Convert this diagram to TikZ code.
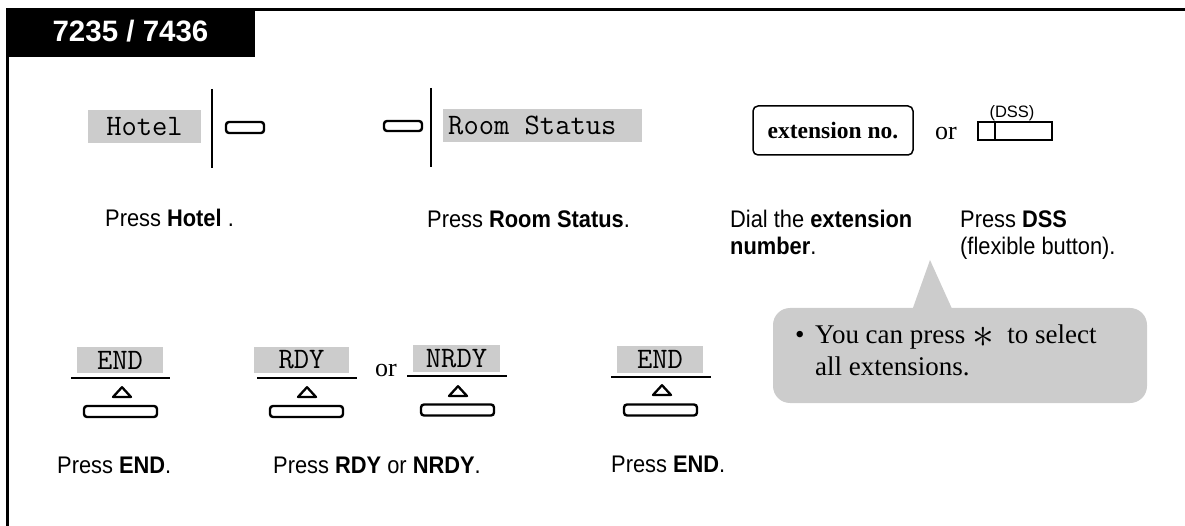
\documentclass[tikz,border=0pt]{standalone}
\usepackage{fontspec}
\setmainfont{Liberation Serif}
\setsansfont{Liberation Sans}[FakeStretch=0.91]
\newfontfamily\tabfont{Liberation Sans}
\usetikzlibrary{calc}
\definecolor{keygray}{gray}{0.8}
\begin{document}
\begin{tikzpicture}[x=1pt,y=-1pt,
  sans/.style={font=\sffamily\fontsize{24}{28}\selectfont, inner sep=0, anchor=base west},
  serif/.style={font=\rmfamily\fontsize{27}{32}\selectfont, inner sep=0, anchor=base west},
  graykey/.style={fill=keygray, font=\ttfamily\fontsize{29.7}{32}\selectfont, inner sep=0},
  keybtn/.style={draw, line width=2.4, rounded corners=3, inner sep=0},
  bar/.style={line width=2.6},
  frame/.style={line width=2.6},
  rule/.style={line width=1.2},
  tri/.style={line width=2.3, line join=round}
]
\useasboundingbox (0,0) rectangle (1185,526);

% header tab and frame
\node[fill=black, minimum width=249, minimum height=49, inner sep=0, anchor=north west] (tab) at (6,8) {};
\node[font=\tabfont\bfseries\fontsize{29.5}{32}\selectfont, text=white, anchor=base, inner sep=0] (tabtext) at (130.5,41.5) {7235 / 7436};
\coordinate (topend) at (1185,9.5);
\coordinate (leftend) at (7.5,526);
\draw[frame] (tab.north east |- topend) -- (topend);
\draw[frame] (tab.south west -| leftend) -- (leftend);

% ---- row 1 ----
\node[graykey, minimum width=113, minimum height=33] (hotel) at (144.5,126.5) {Hotel};
\coordinate (hbar1) at (212,89);
\coordinate (hbar2) at (212,168);
\draw[bar] (hbar1) -- (hbar2);
\node[keybtn, minimum width=38, minimum height=11] (hotelbtn) at (245,127.5) {};

\node[keybtn, minimum width=38, minimum height=10] (roombtn) at (403,126) {};
\coordinate (rbar1) at (431,88);
\coordinate (rbar2) at (431,167);
\draw[bar] (rbar1) -- (rbar2);
\node[graykey, minimum height=33, minimum width=199, anchor=west] (room) at (443,125.5) {};
\node[font=\ttfamily\fontsize{29.7}{32}\selectfont, inner sep=0, anchor=west] (roomtext) at (448,125.5) {Room Status};

\node[draw, line width=1.5, rounded corners=5, minimum width=160, minimum height=49, inner sep=0,
      font=\rmfamily\bfseries\fontsize{23.5}{27}\selectfont] (ext) at (833,130.5) {extension no.};
\node[font=\rmfamily\fontsize{26}{30}\selectfont, anchor=base west, inner sep=0] (or1) at (935,140) {or};
\node[draw, line width=2.2, minimum width=74, minimum height=18, inner sep=0] (dss) at (1015,131) {};
\draw[line width=2.2] ($(dss.north west)+(18,0)$) -- ($(dss.south west)+(18,0)$);
\node[font=\tabfont\fontsize{16.5}{18}\selectfont, anchor=base, inner sep=0] (dsslbl) at (1012,118) {(DSS)};

\node[sans] (photel) at (105,227) {Press \textbf{Hotel} .};
\node[sans] (proom) at (427,228) {Press \textbf{Room Status}.};
\node[sans] (dial1) at (730,228) {Dial the \textbf{extension}};
\node[sans] (dial2) at (730,255) {\textbf{number}.};
\node[sans] (pdss1) at (960,228) {Press \textbf{DSS}};
\node[sans] (pdss2) at (960,255) {(flexible button).};

% callout
\node[fill=keygray, rounded corners=17, minimum width=374, minimum height=95, inner sep=0] (callout) at (960,355.5) {};
\coordinate (apex) at (930,260);
\fill[keygray] ($(callout.north west)+(140,0.5)$) -- (apex) -- ($(callout.north west)+(179,0.5)$) -- cycle;
\node[serif] (bullet) at (795,343) {\textbullet};
\node[serif] (call1) at (815,343) {You can press \raisebox{-4.5pt}{\scalebox{1.75}{$\ast$}}\ \ to select};
\node[serif] (call2) at (815,375) {all extensions.};

% ---- row 2 ----
\node[graykey, minimum width=86, minimum height=26] (end1) at (120,360) {END};
\node[graykey, minimum width=95, minimum height=26] (rdy) at (301.5,360) {RDY};
\node[graykey, minimum width=87, minimum height=27] (nrdy) at (456.5,358.5) {NRDY};
\node[graykey, minimum width=86, minimum height=27] (end2) at (660,359) {END};

\coordinate (l1a) at (71,378);  \coordinate (l1b) at (170,378);
\coordinate (l2a) at (257,378); \coordinate (l2b) at (357,378);
\coordinate (l3a) at (407,376); \coordinate (l3b) at (507,376);
\coordinate (l4a) at (611,377); \coordinate (l4b) at (711,377);
\draw[rule] (l1a) -- (l1b);
\draw[rule] (l2a) -- (l2b);
\draw[rule] (l3a) -- (l3b);
\draw[rule] (l4a) -- (l4b);

\foreach \cx/\ty in {122/386, 307/386, 458/385, 662/384}{
  \draw[tri] (\cx-9,\ty+11) -- (\cx,\ty+1.2) -- (\cx+9,\ty+11) -- cycle;
}

\node[keybtn, minimum width=73, minimum height=11] (b1) at (120.5,411.5) {};
\node[keybtn, minimum width=73, minimum height=11] (b2) at (306.5,411.5) {};
\node[keybtn, minimum width=73, minimum height=11] (b3) at (457.5,410) {};
\node[keybtn, minimum width=73, minimum height=11] (b4) at (660.5,410) {};

\node[font=\rmfamily\fontsize{26}{30}\selectfont, anchor=base west, inner sep=0] (or2) at (375,376) {or};

\node[sans] (pend1) at (57,473) {Press \textbf{END}.};
\node[sans] (prdy) at (273,473) {Press \textbf{RDY} or \textbf{NRDY}.};
\node[sans] (pend2) at (611,472) {Press \textbf{END}.};
\end{tikzpicture}
\end{document}
